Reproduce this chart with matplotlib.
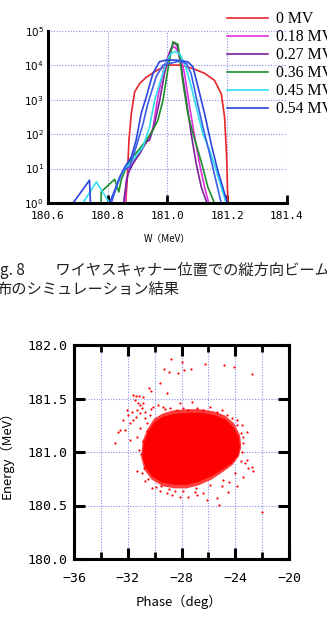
import matplotlib
matplotlib.use('Agg')
import matplotlib.pyplot as plt
from matplotlib.ticker import FixedLocator

MONO = 'DejaVu Sans Mono'
JP = ['Noto Sans CJK JP', 'DejaVu Sans']

# ---------------- top panel: energy spectra (log counts) ----------------
w_ticks = [180.6, 180.8, 181.0, 181.2, 181.4]
w_ticklabels = ['180.6', '180.8', '181.0', '181.2', '181.4']
count_ticks = [1, 10, 100, 1000, 10000, 100000]
count_ticklabels = [r'$10^0$', r'$10^1$', r'$10^2$', r'$10^3$', r'$10^4$', r'$10^5$']

voltages = ['0 MV', '0.18 MV', '0.27 MV', '0.36 MV', '0.45 MV', '0.54 MV']
colors = ['#e8262a', '#e030e0', '#7a2398', '#1f8f2c', '#30e0f0', '#2a44dc']

w_0 = [180.860, 180.865, 180.871, 180.879, 180.890, 180.907, 180.929, 180.962, 181.001,
       181.046, 181.085, 181.124, 181.157, 181.180, 181.191, 181.198, 181.202]
n_0 = [1, 4.6, 68, 400, 1700, 3000, 4500, 7000, 10200, 10200, 8100, 5900, 3700, 1500,
       320, 22, 1]

w_18 = [180.858, 180.862, 180.871, 180.884, 180.907, 180.934, 180.951, 180.968, 180.990,
        181.012, 181.024, 181.040, 181.057, 181.074, 181.091, 181.107, 181.124, 181.138]
n_18 = [1, 4.6, 8.9, 14, 31, 67, 146, 1220, 10200, 31300, 35000, 22300, 5800, 630, 84,
        14, 2.9, 1]

w_27 = [180.853, 180.860, 180.868, 180.884, 180.907, 180.929, 180.940, 180.957, 180.974,
        180.990, 181.007, 181.020, 181.032, 181.046, 181.063, 181.079, 181.096, 181.113,
        181.132]
n_27 = [1, 2.9, 7.2, 14, 27, 60, 67, 205, 980, 5800, 22300, 45700, 39000, 9100, 980,
        105, 14, 2.9, 1]

w_36 = [180.778, 180.778, 180.823, 180.837, 180.845, 180.862, 180.884, 180.907, 180.929,
        180.951, 180.968, 180.985, 181.001, 181.018, 181.035, 181.052, 181.068, 181.085,
        181.102, 181.118, 181.135, 181.157]
n_36 = [1, 2.1, 4.9, 2.1, 4.6, 11, 22, 38, 67, 130, 256, 980, 7300, 48800, 41000, 3000,
        400, 105, 34, 11, 2.9, 1]

w_45 = [180.717, 180.762, 180.806, 180.823, 180.840, 180.862, 180.884, 180.918, 180.940,
        180.957, 180.974, 180.996, 181.012, 181.024, 181.040, 181.057, 181.074, 181.096,
        181.118, 181.141, 181.163, 181.180, 181.196]
n_45 = [1, 4.1, 1, 2.1, 5.7, 11, 17.5, 43, 164, 980, 3000, 12800, 22300, 25000, 22300,
        11400, 3700, 630, 105, 34, 8.9, 2.9, 1]

w_54 = [180.684, 180.739, 180.742, 180.806, 180.823, 180.840, 180.857, 180.879, 180.895,
        180.912, 180.929, 180.951, 180.973, 180.996, 181.029, 181.068, 181.085, 181.102,
        181.124, 181.146, 181.168, 181.185, 181.200]
n_54 = [1, 4.6, 1, 1, 2.3, 5.7, 11, 22, 67, 400, 1220, 5800, 12800, 14300, 14300, 12700,
        9100, 2400, 400, 53, 8.9, 2.9, 1]

# extra blue trace without legend entry
w_x = [180.812, 180.829, 180.851, 180.873, 180.895, 180.918, 180.934, 180.962, 180.985,
       181.007, 181.040, 181.063, 181.079, 181.096, 181.118, 181.141, 181.163, 181.180]
n_x = [1, 2.9, 8.9, 11, 43, 200, 760, 4700, 10200, 11400, 13300, 11400, 5800, 1200,
       170, 27, 4.1, 1]

spectra_w = [w_0, w_18, w_27, w_36, w_45, w_54]
spectra_n = [n_0, n_18, n_27, n_36, n_45, n_54]

# ---------------- bottom panel: longitudinal phase space ----------------
phase_ticks = [-36, -32, -28, -24, -20]
phase_minor = [-34, -30, -26, -22]
energy_ticks = [180.0, 180.5, 181.0, 181.5, 182.0]
energy_ticklabels = ['180.0', '180.5', '181.0', '181.5', '182.0']

# outline of the dense (saturated) core of the particle cloud
core_phase = [-30.85, -30.75, -30.45, -30.0, -29.4, -28.6, -27.6, -26.6, -25.6, -24.8,
              -24.2, -23.8, -23.7, -23.85, -24.3, -25.0, -25.8, -26.7, -27.6, -28.5,
              -29.4, -30.1, -30.6]
core_energy = [180.95, 181.08, 181.18, 181.27, 181.32, 181.35, 181.36, 181.36, 181.34,
               181.30, 181.23, 181.14, 181.05, 180.97, 180.90, 180.84, 180.78, 180.73,
               180.70, 180.70, 180.72, 180.77, 180.85]

# outline of the speckled fringe just outside the core
fringe_phase = [-31.0, -30.9, -30.55, -30.05, -29.4, -28.6, -27.6, -26.6, -25.6, -24.75,
                -24.1, -23.65, -23.55, -23.72, -24.2, -24.95, -25.8, -26.7, -27.6, -28.5,
                -29.4, -30.2, -30.75]
fringe_energy = [180.95, 181.10, 181.21, 181.31, 181.36, 181.39, 181.40, 181.40, 181.38,
                 181.34, 181.27, 181.16, 181.05, 180.96, 180.88, 180.81, 180.74, 180.69,
                 180.66, 180.66, 180.68, 180.74, 180.83]

# individual particles visible outside the core
halo_phase = [-28.80, -27.99, -29.28, -28.93, -28.26, -27.81, -27.32, -26.27, -24.84,
              -24.09, -22.78, -29.58, -30.40, -30.29, -29.10, -27.24, -28.11,
              -31.59, -31.39, -31.14, -30.89, -31.48, -31.26, -31.09, -30.84, -30.96,
              -31.33, -31.71, -31.09, -30.72, -32.08, -32.33, -31.59, -31.83, -32.58,
              -32.20, -32.70, -32.95, -31.83, -31.33, -31.09, -30.59, -30.72, -30.34,
              -31.39, -31.96,
              -30.10, -29.73, -29.35, -28.86, -28.36, -27.87, -27.49, -26.87, -26.38,
              -25.88, -25.38, -25.01, -24.64, -24.26, -23.89, -23.52, -23.15, -23.40,
              -31.33, -30.22, -29.60, -29.10, -28.73, -28.11, -27.49, -26.87, -26.38,
              -26.13, -25.38, -25.19, -24.52, -23.89, -23.40, -23.03, -23.27, -22.66,
              -22.78, -23.15, -22.00,
              -30.5, -30.8, -24.5, -25.0, -27.0, -28.5, -29.5, -23.5, -23.4, -30.9,
              -31.0, -30.6, -30.95, -30.7, -29.9, -28.9, -27.9, -26.9, -25.9, -24.9,
              -24.0, -23.6, -23.55, -23.9, -29.2, -30.3, -31.2]
halo_energy = [181.872, 181.844, 181.776, 181.745, 181.739, 181.770, 181.773, 181.826,
               181.810, 181.795, 181.730, 181.645, 181.596, 181.574, 181.550, 181.465,
               181.456,
               181.533, 181.524, 181.524, 181.512, 181.487, 181.456, 181.440, 181.456,
               181.409, 181.393, 181.378, 181.363, 181.378, 181.393, 181.300, 181.300,
               181.269, 181.207, 181.207, 181.191, 181.083, 181.113, 181.144, 181.223,
               181.269, 181.316, 181.347, 181.325, 181.347,
               181.424, 181.440, 181.424, 181.409, 181.393, 181.409, 181.393, 181.409,
               181.393, 181.424, 181.378, 181.393, 181.347, 181.316, 181.300, 181.253,
               181.191, 181.144,
               180.826, 180.663, 180.631, 180.616, 180.600, 180.584, 180.584, 180.600,
               180.616, 180.553, 180.569, 180.507, 180.622, 180.678, 180.771, 180.849,
               180.896, 180.818, 180.864, 180.927, 180.438,
               180.75, 180.85, 180.72, 180.68, 180.63, 180.64, 180.68, 181.00, 181.08,
               181.10, 180.98, 181.20, 180.80, 180.73, 180.67, 180.65, 180.64, 180.66,
               180.69, 180.74, 180.80, 180.92, 181.18, 181.25, 181.40, 181.40, 181.02]

caption_lines = ['g. 8\u3000\u3000ワイヤスキャナー位置での縦方向ビーム',
                 '布のシミュレーション結果']

W, H = 327, 628
fig = plt.figure(figsize=(W / 100, H / 100), dpi=100)
fig.patch.set_facecolor('white')

grid_kw = dict(color='#8c8cf0', linestyle=(0, (1, 1.5)), linewidth=0.8)

# ---- top axes
ax1 = fig.add_axes([48 / W, 1 - 203 / H, 239 / W, 172 / H])
for lab, col, w, n in zip(voltages, colors, spectra_w, spectra_n):
    ax1.plot(w, n, color=col, lw=1.2, label=lab)
ax1.plot(w_x, n_x, color='#3a5ee8', lw=1.2)
ax1.set_yscale('log')
ax1.set_xlim(180.6, 181.4)
ax1.set_ylim(1, 1e5)
ax1.xaxis.set_major_locator(FixedLocator(w_ticks))
ax1.set_xticklabels(w_ticklabels, fontfamily=MONO, fontsize=8)
ax1.yaxis.set_major_locator(FixedLocator(count_ticks))
ax1.yaxis.set_minor_locator(FixedLocator([]))
ax1.set_yticklabels(count_ticklabels, fontsize=7.5)
ax1.grid(True, which='major', **grid_kw)
for s in ['top', 'right']:
    ax1.spines[s].set_visible(False)
for s in ['left', 'bottom']:
    ax1.spines[s].set_linewidth(2.2)
ax1.tick_params(axis='x', direction='in', length=6, width=2, pad=6)
ax1.tick_params(axis='y', length=0, pad=3)
ax1.set_xlabel('W（MeV）', fontfamily=JP, fontsize=7)
ax1.xaxis.set_label_coords(0.5, -0.18)
ax1.legend(loc='upper left', bbox_to_anchor=(227 / W, 1 - 11 / H),
           bbox_transform=fig.transFigure, frameon=False, borderpad=0,
           borderaxespad=0, handlelength=2.6, handletextpad=0.5, labelspacing=0.13,
           prop={'family': 'Liberation Serif', 'size': 11.3})

# ---- caption
fig.text(0, 1 - 270 / H, caption_lines[0], fontfamily=JP, fontsize=11,
         va='center', ha='left', color='#222222')
fig.text(-3 / W, 1 - 289 / H, caption_lines[1], fontfamily=JP, fontsize=11,
         va='center', ha='left', color='#222222')

# ---- bottom axes
ax2 = fig.add_axes([74 / W, 1 - 559 / H, 215 / W, 214 / H])
ax2.fill(fringe_phase, fringe_energy, color='#ff3c3c', lw=0, zorder=2)
ax2.fill(core_phase, core_energy, color='#ff0000', lw=1.0, zorder=3)
ax2.scatter(halo_phase, halo_energy, s=2.5, color='#ff0000', linewidths=0, zorder=3)
ax2.set_xlim(-36, -20)
ax2.set_ylim(180, 182)
ax2.xaxis.set_major_locator(FixedLocator(phase_ticks))
ax2.xaxis.set_minor_locator(FixedLocator(phase_minor))
ax2.yaxis.set_major_locator(FixedLocator(energy_ticks))
ax2.set_yticklabels(energy_ticklabels, fontfamily=MONO, fontsize=9.5)
for t in ax2.get_xticklabels():
    t.set_fontfamily(MONO)
    t.set_fontsize(9.5)
ax2.grid(True, which='both', **grid_kw)
for s in ax2.spines.values():
    s.set_linewidth(2.2)
ax2.tick_params(which='major', direction='in', length=8, width=2.2, top=True,
                right=True, pad=5)
ax2.tick_params(axis='x', which='major', pad=9)
ax2.tick_params(which='minor', direction='in', length=5, width=2, top=True, right=True)
ax2.set_xlabel('Phase（deg）', fontfamily=JP, fontsize=9.5)
ax2.xaxis.set_label_coords(0.49, -0.165)
ax2.set_ylabel('Energy（MeV）', fontfamily=JP, fontsize=9.5)
ax2.yaxis.set_label_coords(-0.28, 0.5)

fig.savefig('out.png', dpi=100)
